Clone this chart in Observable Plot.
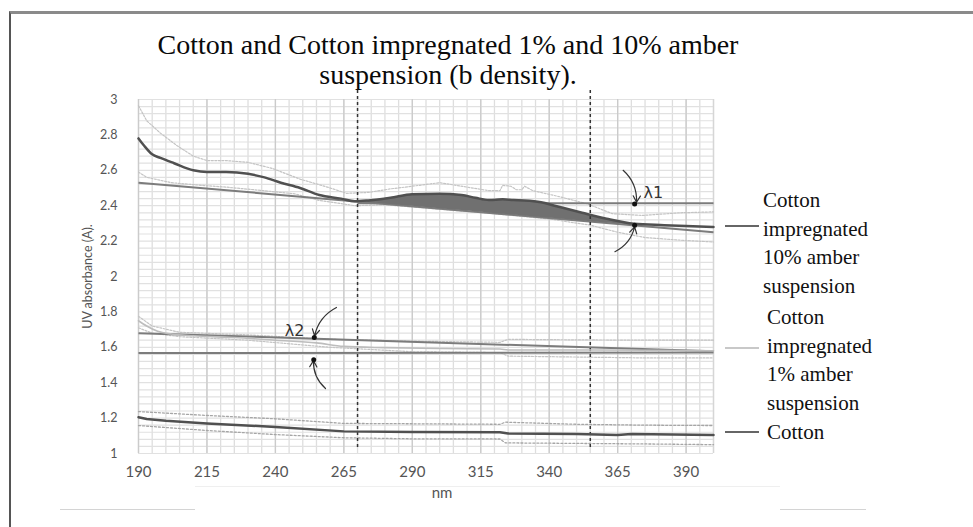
<!DOCTYPE html>
<html>
<head>
<meta charset="utf-8">
<script src="https://cdn.jsdelivr.net/npm/d3@7"></script>
<script src="https://cdn.jsdelivr.net/npm/@observablehq/plot@0.6"></script>
<style>
  html, body { margin: 0; padding: 0; background: #fff; }
  #wrap { position: relative; width: 973px; height: 527px; overflow: hidden; }
  .frame { position: absolute; left: 9px; top: 11px; width: 970px; height: 520px;
           border-top: 3px solid #8a8a8a; border-left: 2px solid #555; box-sizing: border-box; }
  .title { position: absolute; left: 0; top: 30px; width: 896px; text-align: center;
           font-family: "Liberation Serif", "Times New Roman", serif; font-size: 28px; line-height: 30px; color: #0a0a0a; }
  .legtext { position: absolute; font-family: "Liberation Serif", "Times New Roman", serif;
             font-size: 21px; line-height: 28.5px; color: #111; white-space: nowrap; }
  .legline { position: absolute; height: 2px; width: 34px; }
  .faint { position: absolute; height: 1px; background: #d4d4d4; }
  #chart { position: absolute; left: 0; top: 0; }
</style>
</head>
<body>
<div id="wrap">
  <div class="frame"></div>
  <div class="title">Cotton and Cotton impregnated 1% and 10% amber<br>suspension (b density).</div>
  <div id="chart"></div>
  <div class="legline" style="left:725px; top:225px; background:#666;"></div>
  <div class="legtext" style="left:763px; top:186px;">Cotton<br>impregnated<br>10% amber<br>suspension</div>
  <div class="legline" style="left:725px; top:347px; background:#c8c8c8;"></div>
  <div class="legtext" style="left:767px; top:303px;">Cotton<br>impregnated<br>1% amber<br>suspension</div>
  <div class="legline" style="left:725px; top:431px; background:#666;"></div>
  <div class="legtext" style="left:767px; top:418px;">Cotton</div>
  <div class="faint" style="left:60px; top:509px; width:135px;"></div>
  <div class="faint" style="left:780px; top:509px; width:86px;"></div>
  <div class="faint" style="left:195px; top:486px; width:585px; background:#efefef;"></div>
</div>
<script>
// ---- axis ticks ----
const xTicks = [190, 215, 240, 265, 290, 315, 340, 365, 390];
const yTicks = [1, 1.2, 1.4, 1.6, 1.8, 2, 2.2, 2.4, 2.6, 2.8, 3];
const yTickLabels = ["1", "1.2", "1.4", "1.6", "1.8", "2", "2.2", "2.4", "2.6", "2.8", "3"];
const dashedNm = [270, 355];

// ---- Cotton impregnated 10% amber suspension ----
const nm10 = [190,192,195,198,203,210,215,222,230,236,242,249,256,264,269,274,282,290,300,308,313,318,323,327,331,337,342,352,361,371,382,390,400];
const abs10 = [2.78,2.74,2.69,2.67,2.64,2.60,2.59,2.59,2.58,2.56,2.53,2.50,2.46,2.44,2.425,2.43,2.445,2.465,2.468,2.46,2.445,2.432,2.436,2.432,2.43,2.42,2.40,2.36,2.326,2.298,2.29,2.285,2.28];
const nm10Up = [190,193,198,204,210,215,222,230,239,249,259,266,274,282,290,300,310,318,322,323,326,328,330,331,334,344,354,363,374,388,400];
const abs10Up = [2.965,2.88,2.81,2.74,2.68,2.655,2.655,2.645,2.61,2.55,2.505,2.47,2.475,2.495,2.51,2.53,2.505,2.485,2.485,2.515,2.51,2.49,2.49,2.51,2.485,2.45,2.41,2.355,2.345,2.36,2.365];
const nm10Lo = [190,193,202,213,222,235,247,256,269,280,300,320,340,355,365,375,388,400];
const abs10Lo = [2.59,2.56,2.53,2.515,2.505,2.486,2.467,2.43,2.40,2.405,2.38,2.355,2.325,2.29,2.25,2.22,2.205,2.195];
// shaded region between the 10% curve and its baseline
const fillNm = [270,274,282,290,300,308,313,318,323,327,331,337,342,352,361,371];
const fillTop = [2.425,2.43,2.445,2.465,2.468,2.46,2.445,2.432,2.436,2.432,2.43,2.42,2.40,2.36,2.326,2.295];
const fillBase = [2.423,2.418,2.407,2.397,2.383,2.373,2.366,2.359,2.352,2.347,2.342,2.334,2.327,2.314,2.302,2.29];

// ---- Cotton impregnated 1% amber suspension ----
const nm1 = [190,193,197,202,210,225,240,255,265,280,300,322,325,350,375,400];
const abs1 = [1.75,1.72,1.69,1.675,1.665,1.655,1.64,1.625,1.605,1.598,1.593,1.59,1.585,1.585,1.583,1.58];
const nm1Up = [190,195,205,230,260,290,322,325,350,375,400];
const abs1Up = [1.775,1.72,1.685,1.67,1.645,1.635,1.628,1.645,1.642,1.64,1.64];
const nm1Lo = [190,195,205,230,260,290,322,325,350,375,400];
const abs1Lo = [1.71,1.68,1.66,1.64,1.60,1.575,1.57,1.55,1.545,1.54,1.54];

// ---- Cotton ----
const nmC = [190,193,200,215,240,265,290,322,325,350,365,370,400];
const absC = [1.205,1.195,1.185,1.17,1.15,1.125,1.122,1.12,1.113,1.11,1.105,1.11,1.105];
const nmCUp = [190,215,240,265,290,322,324,350,375,400];
const absCUp = [1.237,1.215,1.196,1.17,1.168,1.165,1.177,1.165,1.16,1.158];
const nmCLo = [190,215,240,265,290,322,324,350,375,400];
const absCLo = [1.158,1.13,1.107,1.089,1.083,1.082,1.06,1.057,1.054,1.05];

// ---- construction lines (start nm, start A, end nm, end A) ----
const refX1 = [190, 270, 190, 190];
const refY1 = [2.53, 2.414, 1.68, 1.568];
const refX2 = [400, 400, 400, 400];
const refY2 = [2.25, 2.414, 1.577, 1.57];

// ---- λ annotations ----
const lambdaLabels = ["λ1", "λ2"];
const lambdaLabelNm = [378, 247];
const lambdaLabelA = [2.47, 1.695];
const lambdaDotNm = [371.2, 371.2, 254.2, 254.0];
const lambdaDotA = [2.41, 2.29, 1.655, 1.53];
// arrows bending clockwise
const arrCwX1 = [367, 258.3], arrCwY1 = [2.60, 1.367], arrCwX2 = [371.9, 253.9], arrCwY2 = [2.42, 1.525];
// arrows bending counter-clockwise
const arrCcX1 = [364, 262.3], arrCcY1 = [2.14, 1.825], arrCcX2 = [371.2, 254.3], arrCcY2 = [2.28, 1.665];

// ---- build tables ----
const zipXY = (xs, ys) => xs.map((x, i) => ({x, y: ys[i]}));
const s10 = zipXY(nm10, abs10), s10Up = zipXY(nm10Up, abs10Up), s10Lo = zipXY(nm10Lo, abs10Lo);
const s1 = zipXY(nm1, abs1), s1Up = zipXY(nm1Up, abs1Up), s1Lo = zipXY(nm1Lo, abs1Lo);
const sC = zipXY(nmC, absC), sCUp = zipXY(nmCUp, absCUp), sCLo = zipXY(nmCLo, absCLo);
const fillData = fillNm.map((x, i) => ({x, y1: fillBase[i], y2: fillTop[i]}));
const refLines = refX1.map((x1, i) => ({x1, y1: refY1[i], x2: refX2[i], y2: refY2[i]}));
const arrowsCw = arrCwX1.map((x1, i) => ({x1, y1: arrCwY1[i], x2: arrCwX2[i], y2: arrCwY2[i]}));
const arrowsCc = arrCcX1.map((x1, i) => ({x1, y1: arrCcY1[i], x2: arrCcX2[i], y2: arrCcY2[i]}));
const dots = lambdaDotNm.map((x, i) => ({x, y: lambdaDotA[i]}));
const lbls = lambdaLabels.map((t, i) => ({t, x: lambdaLabelNm[i], y: lambdaLabelA[i]}));

const gridX = d3.range(190, 401, 5);
const gridY = d3.range(0, 51).map(i => 1 + i * 0.04);

const chart = Plot.plot({
  width: 973,
  height: 527,
  marginTop: 99,
  marginBottom: 74,
  marginLeft: 138,
  marginRight: 260,
  style: {fontFamily: "Lato, 'Open Sans', sans-serif", fontSize: "12px", color: "#555", background: "transparent", overflow: "visible"},
  x: {domain: [190, 400]},
  y: {domain: [1, 3]},
  marks: [
    Plot.ruleX(gridX, {stroke: "#dedede", strokeWidth: 1.3}),
    Plot.ruleY(gridY, {stroke: "#e1e1e1", strokeWidth: 1.2}),
    Plot.ruleX(xTicks, {stroke: "#cbcbcb", strokeWidth: 1.3}),
    Plot.ruleX([400], {stroke: "#d6d6d6", strokeWidth: 1.3}),
    Plot.axisX({ticks: xTicks, tickSize: 0, tickPadding: 13, fontSize: 15, label: null}),
    Plot.axisY({ticks: yTicks, tickSize: 0, tickPadding: 21, fontSize: 12.5,
      tickFormat: d => yTickLabels[yTicks.indexOf(d)],
      label: "UV absorbance (A).", labelAnchor: "center", labelOffset: 55, labelArrow: "none"}),
    Plot.text(["nm"], {frameAnchor: "bottom", dx: 16, dy: 44, fontSize: 15, fill: "#555"}),
    // bands (dotted)
    Plot.line(s10Up, {x: "x", y: "y", stroke: "#c4c4c4", strokeWidth: 1.2, strokeDasharray: "2,1.5"}),
    Plot.line(s10Lo, {x: "x", y: "y", stroke: "#c4c4c4", strokeWidth: 1.2, strokeDasharray: "2,1.5"}),
    Plot.line(s1Up, {x: "x", y: "y", stroke: "#c4c4c4", strokeWidth: 1.2, strokeDasharray: "2,1.5"}),
    Plot.line(s1Lo, {x: "x", y: "y", stroke: "#c4c4c4", strokeWidth: 1.2, strokeDasharray: "2,1.5"}),
    Plot.line(sCUp, {x: "x", y: "y", stroke: "#a6a6a6", strokeWidth: 1.3, strokeDasharray: "2,2"}),
    Plot.line(sCLo, {x: "x", y: "y", stroke: "#a6a6a6", strokeWidth: 1.3, strokeDasharray: "2,2"}),
    // construction lines
    Plot.link(refLines, {x1: "x1", y1: "y1", x2: "x2", y2: "y2", stroke: "#7c7c7c", strokeWidth: 2}),
    // shaded area
    Plot.areaY(fillData, {x: "x", y1: "y1", y2: "y2", fill: "#707070", curve: "monotone-x"}),
    // dashed verticals
    Plot.ruleX(dashedNm, {stroke: "#333", strokeWidth: 1.5, strokeDasharray: "3,3", insetTop: -9, insetBottom: 4}),
    // main curves
    Plot.line(s1, {x: "x", y: "y", stroke: "#bdbdbd", strokeWidth: 1.6, curve: "monotone-x"}),
    Plot.line(s10, {x: "x", y: "y", stroke: "#505050", strokeWidth: 2.5, curve: "monotone-x"}),
    Plot.line(sC, {x: "x", y: "y", stroke: "#505050", strokeWidth: 2.5}),
    // annotations
    Plot.arrow(arrowsCw, {x1: "x1", y1: "y1", x2: "x2", y2: "y2", bend: 25, stroke: "#333", strokeWidth: 1.2, headLength: 9}),
    Plot.arrow(arrowsCc, {x1: "x1", y1: "y1", x2: "x2", y2: "y2", bend: -25, stroke: "#333", strokeWidth: 1.2, headLength: 9}),
    Plot.dot(dots, {x: "x", y: "y", r: 2.5, fill: "#111"}),
    Plot.text(lbls, {x: "x", y: "y", text: "t", fontSize: 16, fill: "#333", fontFamily: "'DejaVu Sans', sans-serif"})
  ]
});
document.getElementById("chart").appendChild(chart);
</script>
</body>
</html>
